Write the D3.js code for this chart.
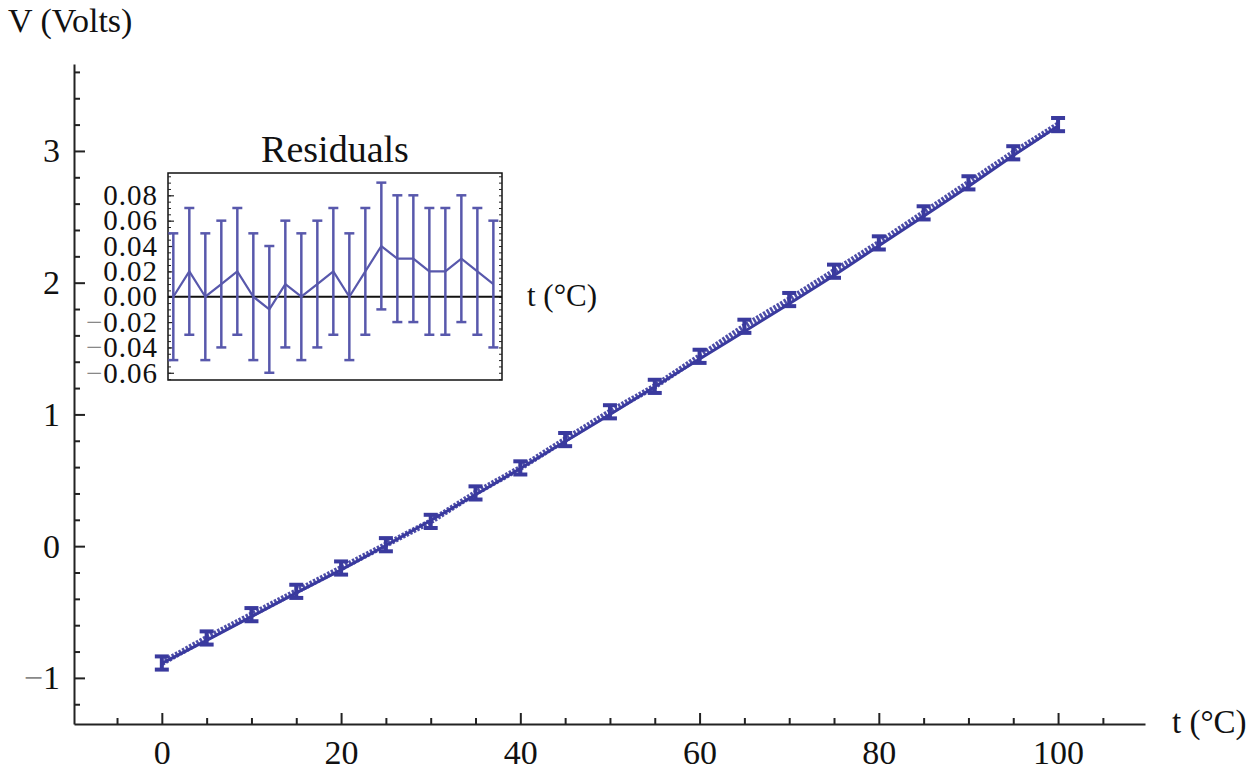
<!DOCTYPE html>
<html>
<head>
<meta charset="utf-8">
<script src="https://cdn.jsdelivr.net/npm/d3@7"></script>
<style>
  body { margin: 0; background: #fff; }
  svg { font-family: "Liberation Serif", "Times New Roman", serif; }
  .axis path, .axis line { stroke: #222; }
</style>
</head>
<body>
<div id="chart"></div>
<script>
//Data
var temps = [0, 5, 10, 15, 20, 25, 30, 35, 40, 45, 50, 55, 60, 65, 70, 75, 80, 85, 90, 95, 100];
var volts = [-0.887, -0.697, -0.520, -0.343, -0.166, 0.011, 0.188, 0.404, 0.594, 0.809, 1.020,
             1.213, 1.441, 1.669, 1.872, 2.087, 2.302, 2.530, 2.758, 2.986, 3.200];
var voltErr = [0.05, 0.05, 0.05, 0.05, 0.05, 0.05, 0.05, 0.05, 0.05, 0.05, 0.05,
               0.05, 0.05, 0.05, 0.05, 0.05, 0.05, 0.05, 0.05, 0.05, 0.05];
var fitVolts = [-0.89, -0.715, -0.535, -0.355, -0.18, 0.005, 0.195, 0.39, 0.59, 0.795, 1.0,
                1.21, 1.42, 1.63, 1.84, 2.055, 2.28, 2.505, 2.73, 2.965, 3.19];
var residuals = [0, 0.02, 0, 0.01, 0.02, 0, -0.01, 0.01, 0, 0.01, 0.02,
                 0, 0.02, 0.04, 0.03, 0.03, 0.02, 0.02, 0.03, 0.02, 0.01];

var xMajor = [0, 20, 40, 60, 80, 100];
var xMinor = [-5, 5, 10, 15, 25, 30, 35, 45, 50, 55, 65, 70, 75, 85, 90, 95, 105];
var yMajor = [-1, 0, 1, 2, 3];
var yMinor = [-1.2, -0.8, -0.6, -0.4, -0.2, 0.2, 0.4, 0.6, 0.8, 1.2, 1.4, 1.6, 1.8,
              2.2, 2.4, 2.6, 2.8, 3.2, 3.4, 3.6];
var resMajor = [-0.06, -0.04, -0.02, 0, 0.02, 0.04, 0.06, 0.08];

var W = 1251, H = 772;
var blue = "rgb(58,58,158)", lightBlue = "rgb(88,88,172)";

//Scales (absolute page coordinates)
var xScale = d3.scaleLinear().domain([-9.8, 109.7]).range([74, 1145]);
var yScale = d3.scaleLinear().domain([-1.35, 3.66]).range([724, 64]);

var svg = d3.select("#chart").append("svg")
	.attr("width", W).attr("height", H);

//Helper: minus sign drawn gray like the original
function signedLabel(sel, fmt) {
	sel.each(function(d) {
		var t = d3.select(this).text("");
		if (d < 0) t.append("tspan").attr("fill", "#888").text("\u2212");
		t.append("tspan").text(fmt(Math.abs(d)));
	});
}

//Main axes
var xAxisG = svg.append("g").attr("class", "axis")
	.attr("transform", "translate(0," + yScale(-1.35) + ")");
xAxisG.call(d3.axisBottom(xScale).tickValues(xMinor).tickSize(-6).tickSizeOuter(0).tickFormat(""));
var xMajG = xAxisG.append("g")
	.call(d3.axisBottom(xScale).tickValues(xMajor).tickSize(-11).tickSizeOuter(0).tickPadding(16));
xMajG.select(".domain").remove();
xAxisG.selectAll("path, line").attr("stroke-width", 2);
xMajG.selectAll("text").attr("font-size", 34).attr("fill", "#111")
	.attr("font-family", "Liberation Serif");

var yAxisG = svg.append("g").attr("class", "axis")
	.attr("transform", "translate(" + xScale(-9.8) + ",0)");
yAxisG.call(d3.axisLeft(yScale).tickValues(yMinor).tickSize(-6).tickSizeOuter(0).tickFormat(""));
var yMajG = yAxisG.append("g")
	.call(d3.axisLeft(yScale).tickValues(yMajor).tickSize(-11).tickSizeOuter(0).tickPadding(14));
yMajG.select(".domain").remove();
yAxisG.selectAll("path, line").attr("stroke-width", 2);
yMajG.selectAll("text").attr("font-size", 34).attr("fill", "#111")
	.attr("font-family", "Liberation Serif")
	.call(signedLabel, d3.format("d"));

svg.append("text").attr("x", 8).attr("y", 32).attr("font-size", 34).attr("fill", "#111")
	.text("V (Volts)");
svg.append("text").attr("x", 1172).attr("y", 733).attr("font-size", 33).attr("fill", "#111")
	.text("t (\u00b0C)");

//Main data
var pts = temps.map(function(t, i) { return {t: t, v: volts[i], e: voltErr[i], f: fitVolts[i]}; });

var fitLine = d3.line().x(function(d) { return xScale(d.t); }).y(function(d) { return yScale(d.f); });
var dataLine = d3.line().x(function(d) { return xScale(d.t); }).y(function(d) { return yScale(d.v); });

svg.append("path").datum(pts).attr("d", fitLine)
	.attr("fill", "none").attr("stroke", blue).attr("stroke-width", 3);
svg.append("path").datum(pts).attr("d", dataLine)
	.attr("fill", "none").attr("stroke", blue).attr("stroke-width", 6)
	.attr("stroke-dasharray", "2.5,1.5").attr("opacity", 0.9);

var bars = svg.append("g").attr("stroke", blue).attr("stroke-width", 4);
pts.forEach(function(d) {
	var x = xScale(d.t), y0 = yScale(d.v - d.e), y1 = yScale(d.v + d.e);
	bars.append("line").attr("x1", x).attr("x2", x).attr("y1", y0).attr("y2", y1);
	bars.append("line").attr("x1", x - 7).attr("x2", x + 7).attr("y1", y0).attr("y2", y0);
	bars.append("line").attr("x1", x - 7).attr("x2", x + 7).attr("y1", y1).attr("y2", y1);
});

//Residuals inset
var rx = d3.scaleLinear().domain([-1.66, 102.7]).range([168, 502]);
var ry = d3.scaleLinear().domain([-0.0657, 0.0976]).range([380, 173]);

var inset = svg.append("g");
inset.append("rect").attr("x", 168).attr("y", 173).attr("width", 334).attr("height", 207)
	.attr("fill", "#fff").attr("stroke", "#111").attr("stroke-width", 1.5);

var resMinor = d3.range(-13, 20).map(function(k) { return k * 0.005; });
["left", "right"].forEach(function(side) {
	var g = inset.append("g").attr("class", "axis")
		.attr("transform", "translate(" + (side == "left" ? 168 : 502) + ",0)");
	var ax = side == "left" ? d3.axisLeft(ry) : d3.axisRight(ry);
	g.call(ax.tickValues(resMinor).tickSize(-3).tickSizeOuter(0).tickFormat(""));
	g.select(".domain").remove();
	g.selectAll("line").attr("stroke-width", 1);
});

var resAxis = inset.append("g").attr("class", "axis").attr("transform", "translate(168,0)")
	.call(d3.axisLeft(ry).tickValues(resMajor).tickSize(-6).tickSizeOuter(0).tickPadding(10));
resAxis.select(".domain").remove();
resAxis.selectAll("line").attr("stroke-width", 1.2);
resAxis.selectAll("text").attr("font-size", 29).attr("letter-spacing", 1).attr("fill", "#111")
	.attr("font-family", "Liberation Serif")
	.call(signedLabel, d3.format(".2f"));

inset.append("line").attr("x1", 168).attr("x2", 502).attr("y1", ry(0)).attr("y2", ry(0))
	.attr("stroke", "#111").attr("stroke-width", 2);

var res = temps.map(function(t, i) { return {t: t, r: residuals[i], e: voltErr[i]}; });
inset.append("path").datum(res)
	.attr("d", d3.line().x(function(d) { return rx(d.t); }).y(function(d) { return ry(d.r); }))
	.attr("fill", "none").attr("stroke", lightBlue).attr("stroke-width", 2.2);

var rbars = inset.append("g").attr("stroke", lightBlue).attr("stroke-width", 2.5);
res.forEach(function(d) {
	var x = rx(d.t), y0 = ry(d.r - d.e), y1 = ry(d.r + d.e);
	rbars.append("line").attr("x1", x).attr("x2", x).attr("y1", y0).attr("y2", y1);
	rbars.append("line").attr("x1", x - 5).attr("x2", x + 5).attr("y1", y0).attr("y2", y0);
	rbars.append("line").attr("x1", x - 5).attr("x2", x + 5).attr("y1", y1).attr("y2", y1);
});

inset.append("text").attr("x", 335).attr("y", 162).attr("text-anchor", "middle")
	.attr("font-size", 38).attr("fill", "#111").text("Residuals");
inset.append("text").attr("x", 527).attr("y", 306)
	.attr("font-size", 31).attr("fill", "#111").text("t (\u00b0C)");
</script>
</body>
</html>
